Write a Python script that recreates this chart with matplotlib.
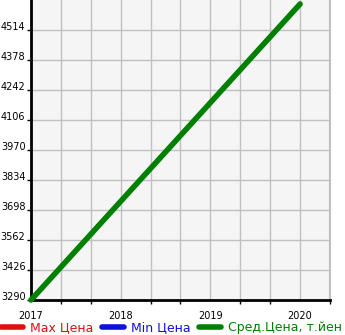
import numpy as np
import matplotlib
matplotlib.use('Agg')
import matplotlib.pyplot as plt

years = [2017, 2020]
avgPrice = [3290, 4632]
maxPrice = []
minPrice = []
yTicks = [3290, 3426, 3562, 3698, 3834, 3970, 4106, 4242, 4378, 4514]
xTicks = [2017, 2018, 2019, 2020]
seriesNames = ['Max Цена', 'Min Цена', 'Сред.Цена, т.йен']
seriesColors = ['#dd1111', '#1111dd', '#008000']

plt.rcParams['font.family'] = ['DejaVu Sans']

fig = plt.figure(figsize=(3.45, 3.35), dpi=100)
ax = fig.add_axes([31 / 345, 35 / 335, 299 / 345, 300 / 335])
ax.set_facecolor('#f5f5f5')

ax.plot([], [], color=seriesColors[0], lw=4, solid_capstyle='round', label=seriesNames[0])
ax.plot([], [], color=seriesColors[1], lw=4, solid_capstyle='round', label=seriesNames[1])
ax.plot(years, avgPrice, color=seriesColors[2], lw=4, solid_capstyle='round',
        label=seriesNames[2], zorder=5, clip_on=False)

ax.set_xlim(2017, 2020 + 1 / 3)
ax.set_ylim(3290, 4650)
ax.set_xticks(xTicks)
ax.set_xticks(np.arange(2017, 2020.4, 1 / 3), minor=True)
ax.set_yticks(yTicks)
ax.grid(True, which='both', color='#c0c0c0', lw=1)
ax.set_axisbelow(True)

for s in ['top', 'right']:
    ax.spines[s].set_visible(False)
ax.spines['left'].set_linewidth(2)
ax.spines['bottom'].set_linewidth(2)
ax.plot([1, 1], [0, 1], transform=ax.transAxes, color='#c0c0c0', lw=1.5, clip_on=False)

ax.tick_params(axis='x', which='both', labelsize=7, length=3, width=1)
ax.tick_params(axis='x', which='major', pad=8, length=0)
ax.tick_params(axis='y', labelsize=7, length=3, width=1, pad=1)
for lbl in ax.get_yticklabels():
    lbl.set_verticalalignment('baseline')

handles, labels = ax.get_legend_handles_labels()
leg = fig.legend(handles, labels, loc='center left', bbox_to_anchor=(0.003, 7 / 335), ncol=3,
                 frameon=False, fontsize=9, handlelength=1.75, columnspacing=0.65,
                 handletextpad=0.6, borderpad=0, borderaxespad=0)
for txt, c in zip(leg.get_texts(), seriesColors):
    txt.set_color(c)

fig.savefig('out.png', dpi=100)
